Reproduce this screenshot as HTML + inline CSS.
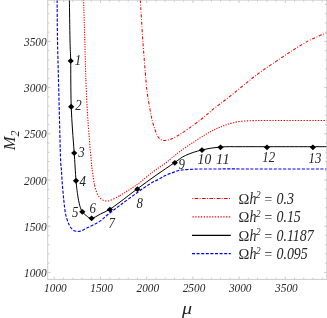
<!DOCTYPE html>
<html><head><meta charset="utf-8"><style>
html,body{margin:0;padding:0;background:#fff;}
body{width:327px;height:318px;overflow:hidden;}
svg{display:block;will-change:transform;font-family:"Liberation Serif",serif;font-style:italic;}
</style></head><body>
<svg width="327" height="318" viewBox="0 0 327 318">
<rect width="327" height="318" fill="#fff"/>
<defs><clipPath id="c"><rect x="47.7" y="0.1" width="279.1" height="279.3"/></clipPath></defs>

<g clip-path="url(#c)" fill="none">
<path d="M140.30 0.00 C140.72 6.72 141.87 26.97 142.80 40.30 C143.73 53.63 145.17 71.28 145.90 80.00 C146.63 88.72 146.57 87.98 147.20 92.60 C147.83 97.22 148.87 103.08 149.70 107.70 C150.53 112.32 151.28 116.53 152.20 120.30 C153.12 124.07 154.13 127.42 155.20 130.30 C156.27 133.18 157.22 135.92 158.60 137.60 C159.98 139.28 161.55 140.10 163.50 140.40 C165.45 140.70 167.90 140.20 170.30 139.40 C172.70 138.60 174.97 137.33 177.90 135.60 C180.83 133.87 184.08 131.67 187.90 129.00 C191.72 126.33 196.68 122.82 200.80 119.60 C204.92 116.38 208.53 112.97 212.60 109.70 C216.67 106.43 221.02 103.27 225.20 100.00 C229.38 96.73 233.65 93.37 237.70 90.10 C241.75 86.83 245.43 83.60 249.50 80.40 C253.57 77.20 257.48 74.20 262.10 70.90 C266.72 67.60 272.17 63.98 277.20 60.60 C282.23 57.22 287.27 53.80 292.30 50.60 C297.33 47.40 302.78 43.92 307.40 41.40 C312.02 38.88 316.73 36.92 320.00 35.50 C323.27 34.08 325.83 33.33 327.00 32.90" stroke="#ff0000" stroke-width="1.05" stroke-dasharray="3.1 1.65 0.85 1.65"/>
<path d="M83.60 0.00 C83.80 6.67 84.42 26.67 84.80 40.00 C85.18 53.33 85.38 66.67 85.90 80.00" stroke="#ff0000" stroke-width="1.1" stroke-dasharray="1.2 1.24"/>
<path d="M85.90 80.00 C86.42 93.33 87.02 106.67 87.90 120.00 C88.78 133.33 90.42 151.23 91.20 160.00 C91.98 168.77 92.03 168.40 92.60 172.60 C93.17 176.80 93.80 181.63 94.60 185.20" stroke="#ff0000" stroke-width="1.1" stroke-dasharray="1.3 1.36"/>
<path d="M94.60 185.20 C95.40 188.77 96.32 191.70 97.40 194.00 C98.48 196.30 99.68 197.83 101.10 199.00 C102.52 200.17 104.35 200.78 105.90 201.00 C107.45 201.22 108.80 200.82 110.40 200.30 C112.00 199.78 113.90 198.70 115.50 197.90 C117.10 197.10 116.40 197.72 120.00 195.50" stroke="#ff0000" stroke-width="1.1" stroke-dasharray="1.35 1.5"/>
<path d="M120.00 195.50 C123.60 193.28 131.67 188.50 137.10 184.60 C142.53 180.70 147.92 175.65 152.60 172.10 C157.28 168.55 161.85 165.78 165.20 163.30 C168.55 160.82 170.23 159.18 172.70 157.20 C175.17 155.22 176.68 153.80 180.00 151.40 C183.32 149.00 188.40 145.58 192.60 142.80 C196.80 140.02 201.87 136.73 205.20 134.70 C208.53 132.67 210.12 131.85 212.60 130.60 C215.08 129.35 217.17 128.38 220.10 127.20 C223.03 126.02 226.83 124.47 230.20 123.50" stroke="#ff0000" stroke-width="1.1" stroke-dasharray="1.2 1.25"/>
<path d="M230.20 123.50 C233.57 122.53 236.12 121.88 240.30 121.40 C244.48 120.92 248.68 120.75 255.30 120.60 C261.92 120.45 268.05 120.52 280.00 120.50 C291.95 120.48 319.17 120.50 327.00 120.50" stroke="#ff0000" stroke-width="1.1" stroke-dasharray="1.35 1.48"/>
<path d="M69.40 0.00 C69.50 6.67 69.78 29.90 70.00 40.00 C70.22 50.10 70.57 53.93 70.70 60.60 C70.83 67.27 70.72 72.37 70.80 80.00 C70.88 87.63 70.92 98.07 71.20 106.40 C71.48 114.73 72.00 122.28 72.50 130.00 C73.00 137.72 73.62 144.30 74.20 152.70 C74.78 161.10 75.42 173.32 76.00 180.40 C76.58 187.48 77.08 191.05 77.70 195.20 C78.32 199.35 78.93 202.53 79.70 205.30 C80.47 208.07 81.17 210.05 82.30 211.80 C83.43 213.55 84.95 214.70 86.50 215.80 C88.05 216.90 89.28 218.68 91.60 218.40 C93.92 218.12 97.35 215.63 100.40 214.10 C103.45 212.57 106.63 211.22 109.90 209.20 C113.17 207.18 115.42 205.40 120.00 202.00 C124.58 198.60 131.57 193.13 137.40 188.80 C143.23 184.47 148.77 180.38 155.00 176.00 C161.23 171.62 169.73 165.92 174.80 162.50 C179.87 159.08 180.87 157.60 185.40 155.50 C189.93 153.40 196.13 151.32 202.00 149.90 C207.87 148.48 214.27 147.53 220.60 147.00 C226.93 146.47 232.27 146.75 240.00 146.70 C247.73 146.65 252.50 146.70 267.00 146.70 C281.50 146.70 317.00 146.70 327.00 146.70" stroke="#000" stroke-width="1.0"/>
<path d="M57.10 0.00 C57.17 6.67 57.27 26.67 57.50 40.00 C57.73 53.33 58.17 66.67 58.50 80.00 C58.83 93.33 59.15 106.67 59.50 120.00 C59.85 133.33 60.28 151.67 60.60 160.00 C60.92 168.33 61.10 165.80 61.40 170.00 C61.70 174.20 62.00 180.20 62.40 185.20 C62.80 190.20 63.32 195.43 63.80 200.00 C64.28 204.57 64.72 209.25 65.30 212.60 C65.88 215.95 66.62 218.00 67.30 220.10 C67.98 222.20 68.52 223.62 69.40 225.20 C70.28 226.78 71.33 228.57 72.60 229.60 C73.87 230.63 75.53 231.20 77.00 231.40 C78.47 231.60 79.83 231.32 81.40 230.80 C82.97 230.28 84.52 229.23 86.40 228.30 C88.28 227.37 90.43 226.40 92.70 225.20 C94.97 224.00 97.47 222.88 100.00 221.10 C102.53 219.32 104.57 217.13 107.90 214.50 C111.23 211.87 115.13 208.93 120.00 205.30 C124.87 201.67 132.10 196.28 137.10 192.70 C142.10 189.12 146.37 186.05 150.00 183.80 C153.63 181.55 156.37 180.57 158.90 179.20 C161.43 177.83 162.90 176.70 165.20 175.60 C167.50 174.50 170.23 173.50 172.70 172.60 C175.17 171.70 177.12 170.73 180.00 170.20 C182.88 169.67 186.67 169.60 190.00 169.40 C193.33 169.20 195.00 169.07 200.00 169.00 C205.00 168.93 213.33 168.96 220.00 168.95 C226.67 168.94 222.17 168.95 240.00 168.95 C257.83 168.95 312.50 168.95 327.00 168.95" stroke="#0000ff" stroke-width="1.15" stroke-dasharray="3.1 1.55"/>
</g>
<g stroke="#cccccc" stroke-width="1" fill="none">
<rect x="47.7" y="0.1" width="279.1" height="279.3"/>
<path d="M54.30 279.40v-2.90M54.30 0.10v2.90M47.70 272.40h2.90M326.80 272.40h-2.90M63.54 279.40v-1.80M63.54 0.10v1.80M47.70 263.16h1.80M326.80 263.16h-1.80M72.78 279.40v-1.80M72.78 0.10v1.80M47.70 253.92h1.80M326.80 253.92h-1.80M82.02 279.40v-1.80M82.02 0.10v1.80M47.70 244.68h1.80M326.80 244.68h-1.80M91.26 279.40v-1.80M91.26 0.10v1.80M47.70 235.44h1.80M326.80 235.44h-1.80M100.50 279.40v-2.90M100.50 0.10v2.90M47.70 226.20h2.90M326.80 226.20h-2.90M109.74 279.40v-1.80M109.74 0.10v1.80M47.70 216.96h1.80M326.80 216.96h-1.80M118.98 279.40v-1.80M118.98 0.10v1.80M47.70 207.72h1.80M326.80 207.72h-1.80M128.22 279.40v-1.80M128.22 0.10v1.80M47.70 198.48h1.80M326.80 198.48h-1.80M137.46 279.40v-1.80M137.46 0.10v1.80M47.70 189.24h1.80M326.80 189.24h-1.80M146.70 279.40v-2.90M146.70 0.10v2.90M47.70 180.00h2.90M326.80 180.00h-2.90M155.94 279.40v-1.80M155.94 0.10v1.80M47.70 170.76h1.80M326.80 170.76h-1.80M165.18 279.40v-1.80M165.18 0.10v1.80M47.70 161.52h1.80M326.80 161.52h-1.80M174.42 279.40v-1.80M174.42 0.10v1.80M47.70 152.28h1.80M326.80 152.28h-1.80M183.66 279.40v-1.80M183.66 0.10v1.80M47.70 143.04h1.80M326.80 143.04h-1.80M192.90 279.40v-2.90M192.90 0.10v2.90M47.70 133.80h2.90M326.80 133.80h-2.90M202.14 279.40v-1.80M202.14 0.10v1.80M47.70 124.56h1.80M326.80 124.56h-1.80M211.38 279.40v-1.80M211.38 0.10v1.80M47.70 115.32h1.80M326.80 115.32h-1.80M220.62 279.40v-1.80M220.62 0.10v1.80M47.70 106.08h1.80M326.80 106.08h-1.80M229.86 279.40v-1.80M229.86 0.10v1.80M47.70 96.84h1.80M326.80 96.84h-1.80M239.10 279.40v-2.90M239.10 0.10v2.90M47.70 87.60h2.90M326.80 87.60h-2.90M248.34 279.40v-1.80M248.34 0.10v1.80M47.70 78.36h1.80M326.80 78.36h-1.80M257.58 279.40v-1.80M257.58 0.10v1.80M47.70 69.12h1.80M326.80 69.12h-1.80M266.82 279.40v-1.80M266.82 0.10v1.80M47.70 59.88h1.80M326.80 59.88h-1.80M276.06 279.40v-1.80M276.06 0.10v1.80M47.70 50.64h1.80M326.80 50.64h-1.80M285.30 279.40v-2.90M285.30 0.10v2.90M47.70 41.40h2.90M326.80 41.40h-2.90M294.54 279.40v-1.80M294.54 0.10v1.80M47.70 32.16h1.80M326.80 32.16h-1.80M303.78 279.40v-1.80M303.78 0.10v1.80M47.70 22.92h1.80M326.80 22.92h-1.80M313.02 279.40v-1.80M313.02 0.10v1.80M47.70 13.68h1.80M326.80 13.68h-1.80M322.26 279.40v-1.80M322.26 0.10v1.80M47.70 4.44h1.80M326.80 4.44h-1.80"/>
</g>
<g font-size="12.7" fill="#262626">
<text transform="translate(55.4,292.3) scale(0.89,1)" text-anchor="middle">1000</text>
<text transform="translate(46.6,276.9) scale(0.89,1)" text-anchor="end">1000</text>
<text transform="translate(101.6,292.3) scale(0.89,1)" text-anchor="middle">1500</text>
<text transform="translate(46.6,230.7) scale(0.89,1)" text-anchor="end">1500</text>
<text transform="translate(147.8,292.3) scale(0.89,1)" text-anchor="middle">2000</text>
<text transform="translate(46.6,184.5) scale(0.89,1)" text-anchor="end">2000</text>
<text transform="translate(194.0,292.3) scale(0.89,1)" text-anchor="middle">2500</text>
<text transform="translate(46.6,138.3) scale(0.89,1)" text-anchor="end">2500</text>
<text transform="translate(240.2,292.3) scale(0.89,1)" text-anchor="middle">3000</text>
<text transform="translate(46.6,92.1) scale(0.89,1)" text-anchor="end">3000</text>
<text transform="translate(286.4,292.3) scale(0.89,1)" text-anchor="middle">3500</text>
<text transform="translate(46.6,45.9) scale(0.89,1)" text-anchor="end">3500</text>
</g>
<g fill="#000">
<path d="M67.60 60.95l3.10 -2.90l3.10 2.90l-3.10 2.90z"/>
<path d="M68.10 106.75l3.10 -2.90l3.10 2.90l-3.10 2.90z"/>
<path d="M71.10 153.05l3.10 -2.90l3.10 2.90l-3.10 2.90z"/>
<path d="M72.90 180.75l3.10 -2.90l3.10 2.90l-3.10 2.90z"/>
<path d="M79.20 211.85l3.10 -2.90l3.10 2.90l-3.10 2.90z"/>
<path d="M88.50 218.35l3.10 -2.90l3.10 2.90l-3.10 2.90z"/>
<path d="M106.80 209.55l3.10 -2.90l3.10 2.90l-3.10 2.90z"/>
<path d="M134.30 189.15l3.10 -2.90l3.10 2.90l-3.10 2.90z"/>
<path d="M171.70 162.85l3.10 -2.90l3.10 2.90l-3.10 2.90z"/>
<path d="M198.90 150.10l3.10 -2.90l3.10 2.90l-3.10 2.90z"/>
<path d="M217.40 147.30l3.10 -2.90l3.10 2.90l-3.10 2.90z"/>
<path d="M263.90 147.30l3.10 -2.90l3.10 2.90l-3.10 2.90z"/>
<path d="M309.80 147.30l3.10 -2.90l3.10 2.90l-3.10 2.90z"/>
</g>
<g font-size="14.3" fill="#262626" text-anchor="middle">
<text transform="translate(78.0,65.1) scale(0.90,1)">1</text>
<text transform="translate(78.5,110.4) scale(0.90,1)">2</text>
<text transform="translate(81.5,157.4) scale(0.90,1)">3</text>
<text transform="translate(82.8,185.5) scale(0.90,1)">4</text>
<text transform="translate(75.2,216.5) scale(0.90,1)">5</text>
<text transform="translate(92.8,213.2) scale(0.90,1)">6</text>
<text transform="translate(111.7,227.8) scale(0.90,1)">7</text>
<text transform="translate(139.6,207.7) scale(0.90,1)">8</text>
<text transform="translate(181.6,168.7) scale(0.90,1)">9</text>
<text transform="translate(204.4,163.6) scale(0.95,1)">10</text>
<text transform="translate(223.0,163.5) scale(1.00,1)" letter-spacing="0.5">11</text>
<text transform="translate(268.8,162.2) scale(0.90,1)">12</text>
<text transform="translate(314.9,162.6) scale(0.90,1)">13</text>
</g>
<g fill="none">
<path d="M192.3 198.4H230.9" stroke="#ff0000" stroke-width="1.05" stroke-dasharray="0.9 1.45 3.7 1.3"/>
<path d="M192.5 216.9H230.9" stroke="#ff0000" stroke-width="1.1" stroke-dasharray="1.3 1.5"/>
<path d="M192 235.3H230.8" stroke="#000" stroke-width="1.2"/>
<path d="M192 253.7H230.8" stroke="#0000ff" stroke-width="1.3" stroke-dasharray="3 1.6"/>
</g>
<g fill="#262626">
<text x="238.5" y="203.8" font-size="14.5" font-style="normal">Ω</text>
<text transform="translate(249.5,203.8) scale(0.89,1)" font-size="15.7">h</text>
<text transform="translate(256.0,198.2) scale(0.9,1)" font-size="10.3">2</text>
<text x="263.5" y="203.8" font-size="14">=</text>
<text transform="translate(276.4,203.8) scale(0.89,1)" font-size="15.7">0.3</text>
<text x="238.5" y="222.3" font-size="14.5" font-style="normal">Ω</text>
<text transform="translate(249.5,222.3) scale(0.89,1)" font-size="15.7">h</text>
<text transform="translate(256.0,216.7) scale(0.9,1)" font-size="10.3">2</text>
<text x="263.5" y="222.3" font-size="14">=</text>
<text transform="translate(276.4,222.3) scale(0.89,1)" font-size="15.7">0.15</text>
<text x="238.5" y="240.7" font-size="14.5" font-style="normal">Ω</text>
<text transform="translate(249.5,240.7) scale(0.89,1)" font-size="15.7">h</text>
<text transform="translate(256.0,235.1) scale(0.9,1)" font-size="10.3">2</text>
<text x="263.5" y="240.7" font-size="14">=</text>
<text transform="translate(276.4,240.7) scale(0.89,1)" font-size="15.7">0.1187</text>
<text x="238.5" y="259.1" font-size="14.5" font-style="normal">Ω</text>
<text transform="translate(249.5,259.1) scale(0.89,1)" font-size="15.7">h</text>
<text transform="translate(256.0,253.5) scale(0.9,1)" font-size="10.3">2</text>
<text x="263.5" y="259.1" font-size="14">=</text>
<text transform="translate(276.4,259.1) scale(0.89,1)" font-size="15.7">0.095</text>
</g>
<text transform="translate(182.1,313.9) scale(1.22,1)" font-size="16.5" fill="#262626">μ</text>
<text transform="translate(15.0,150.2) rotate(-90)" font-size="16.5" fill="#262626">M<tspan font-size="12" dy="4.3">2</tspan></text>
</svg></body></html>
